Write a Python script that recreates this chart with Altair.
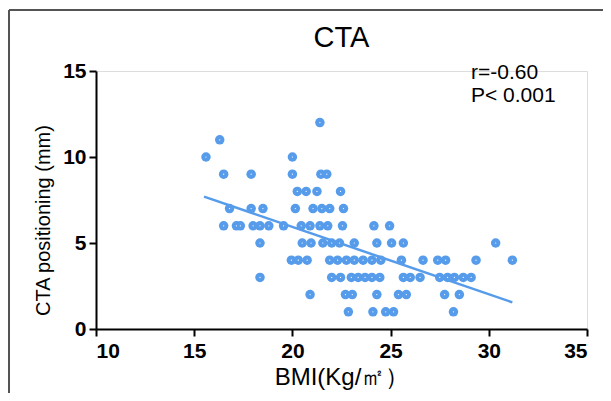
import altair as alt
import pandas as pd

# BMI values by CTA positioning row (mm)
bmi_12 = [21.4]
bmi_11 = [16.3]
bmi_10 = [15.6, 20.0]
bmi_9 = [16.5, 17.9, 20.0, 21.45, 21.75]
bmi_8 = [20.25, 20.7, 21.25, 22.45]
bmi_7 = [16.8, 17.9, 18.5, 20.15, 21.05, 21.5, 21.9, 22.6]
bmi_6 = [16.5, 17.15, 17.35, 18.0, 18.35, 18.8, 19.55, 20.45, 20.9, 21.4, 21.8, 22.55, 24.15, 24.95]
bmi_5 = [18.35, 20.5, 20.95, 21.55, 22.0, 22.4, 23.15, 24.3, 25.05, 25.65, 30.35]
bmi_4 = [19.95, 20.3, 20.75, 21.9, 22.3, 22.75, 23.15, 23.6, 24.05, 24.5, 25.55, 26.65,
         27.4, 27.8, 29.35, 31.2]
bmi_3 = [18.35, 22.0, 22.45, 23.0, 23.35, 23.7, 24.05, 24.45, 25.65, 26.0, 26.5, 27.5,
         27.9, 28.25, 28.7, 29.1]
bmi_2 = [20.9, 22.7, 23.05, 24.3, 25.4, 25.8, 27.75, 28.5]
bmi_1 = [22.85, 24.1, 24.75, 25.15, 28.2]

rows = {12: bmi_12, 11: bmi_11, 10: bmi_10, 9: bmi_9, 8: bmi_8, 7: bmi_7, 6: bmi_6,
        5: bmi_5, 4: bmi_4, 3: bmi_3, 2: bmi_2, 1: bmi_1}

# fitted line
fit_x = [15.5, 31.2]
fit_y = [7.7, 1.55]

x_ticks = [10, 15, 20, 25, 30, 35]
y_ticks = [0, 5, 10, 15]

ann_text = ["r=-0.60", "P< 0.001"]

pts = pd.DataFrame([{"bmi": b, "cta": k} for k, lst in rows.items() for b in lst])
fit = pd.DataFrame({"bmi": fit_x, "cta": fit_y})

BLUE = "#569CEB"
FONT = "Liberation Sans"

xs = alt.Scale(domain=[10, 35], nice=False, zero=False)
ys = alt.Scale(domain=[0, 15], nice=False)

x_axis = alt.Axis(values=x_ticks, title="BMI(Kg/㎡）", grid=False, domainColor="black",
                  domainWidth=2, tickColor="black", tickWidth=2, tickSize=7,
                  labelFont=FONT, labelFontWeight="bold", labelFontSize=21,
                  labelColor="black", labelPadding=4, titleFont=FONT,
                  titleFontWeight="normal", titleFontSize=24, titleColor="black",
                  titlePadding=4)
y_axis = alt.Axis(values=y_ticks, title="CTA positioning (mm)", grid=False,
                  domainColor="black", domainWidth=2, tickColor="black", tickWidth=2,
                  tickSize=7, labelFont=FONT, labelFontWeight="bold", labelFontSize=21,
                  labelColor="black", labelPadding=3, titleFont=FONT,
                  titleFontWeight="normal", titleFontSize=20, titleColor="black",
                  titlePadding=9, titleY=149)

base_pts = alt.Chart(pts)
dots = base_pts.mark_circle(size=90, opacity=1, color=BLUE).encode(
    x=alt.X("bmi:Q", scale=xs, axis=x_axis),
    y=alt.Y("cta:Q", scale=ys, axis=y_axis),
)
centers = base_pts.mark_circle(size=1.5, opacity=1, color="white").encode(
    x=alt.X("bmi:Q", scale=xs), y=alt.Y("cta:Q", scale=ys)
)
line = alt.Chart(fit).mark_line(color=BLUE, strokeWidth=2.5).encode(
    x=alt.X("bmi:Q", scale=xs), y=alt.Y("cta:Q", scale=ys)
)

ann = alt.Chart(pd.DataFrame({"t": ann_text, "yy": [2, 25]})).mark_text(
    align="left", baseline="middle", font=FONT, fontSize=21, color="black"
).encode(text="t:N", x=alt.value(375), y=alt.Y("yy:Q", scale=None))

title = alt.Chart(pd.DataFrame({"t": ["CTA"]})).mark_text(
    align="center", baseline="middle", font=FONT, fontSize=29, color="black"
).encode(text="t:N", x=alt.value(245.5), y=alt.value(-33))

frame_top = alt.Chart(pts).mark_rule(color="#555", strokeWidth=1.5).encode(
    x=alt.value(-87), x2=alt.value(520), y=alt.value(-61)
)
frame_left = alt.Chart(pts).mark_rule(color="#555", strokeWidth=1.5).encode(
    x=alt.value(-87), y=alt.value(-61), y2=alt.value(340)
)

chart = alt.layer(frame_top, frame_left, line, dots, centers, ann, title).properties(
    width=491, height=258,
    autosize=alt.AutoSizeParams(type="none"),
    padding={"left": 88, "top": 63, "right": 16, "bottom": 64},
).configure_view(stroke=None).configure(background="white")

chart.save("out.html", embed_options={"renderer": "svg", "actions": False})
